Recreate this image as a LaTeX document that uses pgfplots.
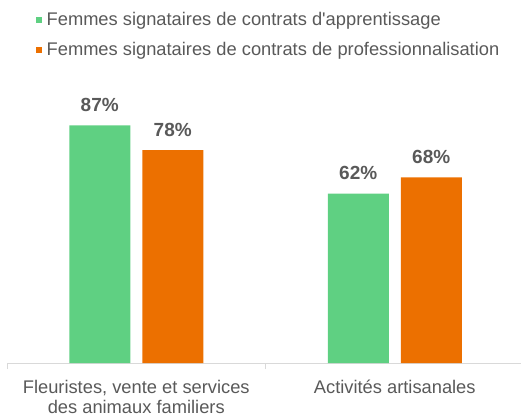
\documentclass[border=0pt]{standalone}
\usepackage{pgfplots}
\pgfplotsset{compat=1.18}
\usepackage{fontspec}
\setmainfont{Liberation Sans}
\definecolor{vert}{RGB}{95,208,130}
\definecolor{orange}{RGB}{236,112,0}
\definecolor{texte}{RGB}{89,89,89}
\definecolor{axe}{RGB}{217,217,217}
\begin{document}
\begin{tikzpicture}
\useasboundingbox (0bp,0bp) rectangle (521bp,417bp);
\begin{axis}[
    at={(7bp,54bp)}, anchor=south west,
    scale only axis, width=517bp, height=273bp,
    xmin=-0.5, xmax=1.5, ymin=0, ymax=100,
    clip=false,
    ybar=12bp, bar width=61bp,
    axis x line*=bottom, axis y line=none,
    x axis line style={draw=axe, line width=1bp},
    xtick={0,1},
    xticklabels={{Fleuristes, vente et services\\des animaux familiers}, {Activités artisanales}},
    major tick length=0pt,
    extra x ticks={-0.5,0.5,1.5},
    extra x tick labels={},
    extra x tick style={major tick length=6bp, tick style={draw=axe, line width=1bp}},
    tick align=outside,
    xticklabel style={align=center, text=texte, inner sep=0pt, yshift=-17bp,
        font=\fontsize{18.3bp}{20.5bp}\selectfont},
    /pgf/number format/assume math mode=true,
    nodes near coords={\pgfmathprintnumber{\pgfplotspointmeta}\%},
    nodes near coords style={anchor=base, yshift=14bp, text=texte,
        font=\fontsize{19bp}{22bp}\selectfont\bfseries},
    legend style={at={(0.056,1.29)}, anchor=north west, draw=none, fill=none,
        inner sep=0pt, row sep=12bp, column sep=5bp,
        nodes={inner sep=0pt, text height=14bp, text depth=4bp, text=texte,
            font=\fontsize{18.3bp}{22bp}\selectfont}},
    legend cell align=left,
    legend image code/.code={\fill[#1] (0bp,-2.7bp) rectangle (5.5bp,2.7bp);},
]
\addplot[fill=vert, draw=none] coordinates {(0,87) (1,62)};
\addplot[fill=orange, draw=none] coordinates {(0,78) (1,68)};
\legend{Femmes signataires de contrats d\textquotesingle apprentissage, Femmes signataires de contrats de professionnalisation}
\end{axis}
\end{tikzpicture}
\end{document}
